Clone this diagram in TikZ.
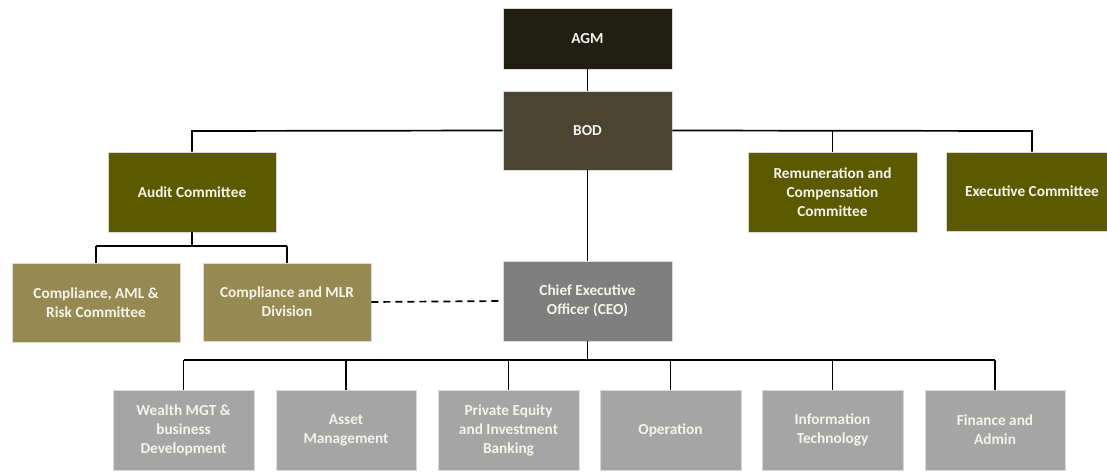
\documentclass[tikz,border=0pt]{standalone}
\usepackage{fontspec}
\setmainfont{Carlito}
\definecolor{agmc}{HTML}{211E12}
\definecolor{bodc}{HTML}{4B4430}
\definecolor{olivec}{HTML}{5C5A00}
\definecolor{compc}{HTML}{968A52}
\definecolor{ceoc}{HTML}{7F7F7F}
\definecolor{deptc}{HTML}{A5A5A5}
\definecolor{txtc}{HTML}{F4F4EC}
\begin{document}
\begin{tikzpicture}[x=1pt,y=-1pt,
  box/.style={rectangle, draw=white!85!black, line width=0.6pt, text=txtc,
    font=\fontsize{15.3}{19}\selectfont\bfseries, align=center, inner sep=2pt},
  conn/.style={line width=1.7pt, black}]
\useasboundingbox (0,0) rectangle (1107,471);
\node[box, fill=agmc, minimum width=169, minimum height=61] (agm) at (587.5,38.5) {AGM};
\node[box, fill=bodc, minimum width=169, minimum height=79] (bod) at (587.5,130.5) {BOD};
\node[box, fill=olivec, minimum width=168, minimum height=80] (audit) at (192,192) {Audit Committee};
\node[box, fill=olivec, minimum width=169, minimum height=80] (rem) at (832.5,192) {Remuneration and\\Compensation\\Committee};
\node[box, fill=olivec, minimum width=172, minimum height=79] (exec) at (1032,191.5) {Executive Committee};
\node[box, fill=compc, minimum width=168, minimum height=79] (caml) at (96,302.5) {Compliance, AML \&\\Risk Committee};
\node[box, fill=compc, minimum width=168, minimum height=78] (cmlr) at (287,302) {Compliance and MLR\\Division};
\node[box, fill=ceoc, minimum width=169, minimum height=80] (ceo) at (587.5,301) {Chief Executive\\Officer (CEO)};
\node[box, fill=deptc, minimum width=141, minimum height=80] (d1) at (183.5,430) {Wealth MGT \&\\business\\Development};
\node[box, fill=deptc, minimum width=140, minimum height=80] (d2) at (346,430) {Asset\\Management};
\node[box, fill=deptc, minimum width=141, minimum height=80] (d3) at (508.5,430) {Private Equity\\and Investment\\Banking};
\node[box, fill=deptc, minimum width=141, minimum height=80] (d4) at (670.5,430) {Operation};
\node[box, fill=deptc, minimum width=141, minimum height=80] (d5) at (832.5,430) {Information\\Technology};
\node[box, fill=deptc, minimum width=140, minimum height=80] (d6) at (995,430) {Finance and\\Admin};
% junction coordinates
\coordinate (jb) at (0,131);
\coordinate (ja) at (0,246);
\coordinate (jc) at (0,360);
% connectors
\draw[conn] (agm.south) -- (bod.north);
\draw[conn] (bod.west) -- (jb -| audit.north) -- (audit.north);
\draw[conn] (bod.east) -- (jb -| exec.north) -- (exec.north);
\draw[conn] (jb -| rem.north) -- (rem.north);
\draw[conn] (bod.south) -- (ceo.north);
\draw[conn] (audit.south) -- (ja -| audit.south);
\draw[conn] (ja -| caml.north) -- (caml.north);
\draw[conn] (ja -| cmlr.north) -- (cmlr.north);
\draw[conn] (ja -| caml.north) -- (ja -| cmlr.north);
\draw[conn, dash pattern=on 7pt off 5pt] (cmlr.east) -- (ceo.west);
\draw[conn] (ceo.south) -- (jc -| ceo.south);
\draw[conn] (jc -| d1.north) -- (jc -| d6.north);
\foreach \d in {d1,d2,d3,d4,d5,d6} {\draw[conn] (jc -| \d.north) -- (\d.north);}
\end{tikzpicture}
\end{document}
